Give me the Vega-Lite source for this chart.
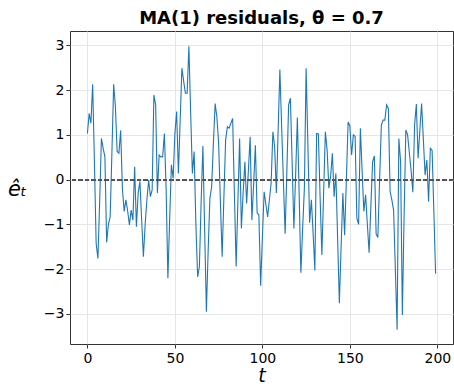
{
  "$schema": "https://vega.github.io/schema/vega-lite/v6.json",
  "width": 383,
  "height": 313,
  "autosize": {"type": "none"},
  "padding": {"left": 70, "top": 31, "right": 1, "bottom": 40},
  "background": "white",
  "config": {
    "view": {"stroke": "#333333", "strokeWidth": 1},
    "font": "DejaVu Sans",
    "axis": {"labelFont": "DejaVu Sans", "titleFont": "DejaVu Sans", "labelColor": "#000000", "titleColor": "#000000", "tickColor": "#333333", "gridColor": "#e6e6e6", "domain": false}
  },
  "title": {"text": "MA(1) residuals, θ = 0.7", "fontSize": 18, "font": "DejaVu Sans", "fontWeight": "bold", "color": "#000000", "offset": 3, "anchor": "middle"},
  "data": {"values": [
    {"t":0,"e":1.03},{"t":1,"e":1.48},{"t":2,"e":1.26},{"t":3,"e":2.13},{"t":4,"e":0.4},{"t":5,"e":-1.42},{"t":6,"e":-1.76},{"t":7,"e":-0.5},{"t":8,"e":0.92},{"t":9,"e":0.7},
    {"t":10,"e":0.51},{"t":11,"e":-1.4},{"t":12,"e":-1.0},{"t":13,"e":-0.83},{"t":14,"e":0.6},{"t":15,"e":2.13},{"t":16,"e":1.63},{"t":17,"e":0.63},{"t":18,"e":0.59},{"t":19,"e":1.1},
    {"t":20,"e":-0.2},{"t":21,"e":-0.71},{"t":22,"e":-0.45},{"t":23,"e":-0.7},{"t":24,"e":-1.01},{"t":25,"e":-0.68},{"t":26,"e":-0.9},{"t":27,"e":0.29},{"t":28,"e":-1.05},{"t":29,"e":-0.3},
    {"t":30,"e":-0.04},{"t":31,"e":-0.9},{"t":32,"e":-1.72},{"t":33,"e":-1.0},{"t":34,"e":-0.45},{"t":35,"e":-0.01},{"t":36,"e":-0.38},{"t":37,"e":-0.23},{"t":38,"e":1.89},{"t":39,"e":1.67},
    {"t":40,"e":-0.3},{"t":41,"e":0.55},{"t":42,"e":0.51},{"t":43,"e":0.51},{"t":44,"e":1.03},{"t":45,"e":-0.23},{"t":46,"e":-2.2},{"t":47,"e":-0.9},{"t":48,"e":0.33},{"t":49,"e":0.03},
    {"t":50,"e":1.03},{"t":51,"e":1.52},{"t":52,"e":0.14},{"t":53,"e":1.3},{"t":54,"e":2.49},{"t":55,"e":2.2},{"t":56,"e":1.93},{"t":57,"e":1.93},{"t":58,"e":2.98},{"t":59,"e":1.5},
    {"t":60,"e":0.14},{"t":61,"e":0.63},{"t":62,"e":-1.0},{"t":63,"e":-2.17},{"t":64,"e":-1.94},{"t":65,"e":-0.5},{"t":66,"e":0.75},{"t":67,"e":-1.1},{"t":68,"e":-2.95},{"t":69,"e":-1.6},
    {"t":70,"e":-0.42},{"t":71,"e":-0.16},{"t":72,"e":0.8},{"t":73,"e":1.7},{"t":74,"e":1.4},{"t":75,"e":0.81},{"t":76,"e":-0.5},{"t":77,"e":-1.72},{"t":78,"e":-0.4},{"t":79,"e":0.89},
    {"t":80,"e":1.18},{"t":81,"e":1.15},{"t":82,"e":1.26},{"t":83,"e":1.37},{"t":84,"e":-0.3},{"t":85,"e":-1.94},{"t":86,"e":-0.5},{"t":87,"e":0.92},{"t":88,"e":-1.09},{"t":89,"e":-0.3},
    {"t":90,"e":0.4},{"t":91,"e":-0.53},{"t":92,"e":0.2},{"t":93,"e":0.96},{"t":94,"e":-0.9},{"t":95,"e":-0.1},{"t":96,"e":0.77},{"t":97,"e":-0.74},{"t":98,"e":-0.79},{"t":99,"e":-2.37},
    {"t":100,"e":-1.3},{"t":101,"e":-0.27},{"t":102,"e":-0.55},{"t":103,"e":-0.83},{"t":104,"e":-0.45},{"t":105,"e":-0.08},{"t":106,"e":1.07},{"t":107,"e":0.74},{"t":108,"e":-0.3},{"t":109,"e":1.1},
    {"t":110,"e":2.46},{"t":111,"e":1.2},{"t":112,"e":0.0},{"t":113,"e":-1.21},{"t":114,"e":0.2},{"t":115,"e":1.67},{"t":116,"e":1.82},{"t":117,"e":0.4},{"t":118,"e":-1.09},{"t":119,"e":0.1},
    {"t":120,"e":1.39},{"t":121,"e":-0.3},{"t":122,"e":-2.08},{"t":123,"e":-1.1},{"t":124,"e":-0.2},{"t":125,"e":2.49},{"t":126,"e":0.8},{"t":127,"e":-0.96},{"t":128,"e":-0.45},{"t":129,"e":-1.2},
    {"t":130,"e":-2.03},{"t":131,"e":1.03},{"t":132,"e":1.02},{"t":133,"e":-0.4},{"t":134,"e":-1.68},{"t":135,"e":-0.3},{"t":136,"e":1.07},{"t":137,"e":0.66},{"t":138,"e":-0.19},{"t":139,"e":0.07},
    {"t":140,"e":0.59},{"t":141,"e":-0.38},{"t":142,"e":0.14},{"t":143,"e":-1.3},{"t":144,"e":-2.76},{"t":145,"e":-1.5},{"t":146,"e":-0.3},{"t":147,"e":-1.24},{"t":148,"e":0.0},{"t":149,"e":1.29},
    {"t":150,"e":1.2},{"t":151,"e":0.55},{"t":152,"e":1.0},{"t":153,"e":0.97},{"t":154,"e":-0.86},{"t":155,"e":-1.0},{"t":156,"e":1.15},{"t":157,"e":0.2},{"t":158,"e":-0.71},{"t":159,"e":-0.34},
    {"t":160,"e":-1.0},{"t":161,"e":-1.63},{"t":162,"e":-0.6},{"t":163,"e":0.4},{"t":164,"e":0.53},{"t":165,"e":-1.21},{"t":166,"e":-1.29},{"t":167,"e":0.0},{"t":168,"e":1.22},{"t":169,"e":1.33},
    {"t":170,"e":1.33},{"t":171,"e":1.67},{"t":172,"e":1.59},{"t":173,"e":-0.27},{"t":174,"e":-0.45},{"t":175,"e":-0.68},{"t":176,"e":-2.0},{"t":177,"e":-3.35},{"t":178,"e":0.92},{"t":179,"e":0.4},
    {"t":180,"e":-3.02},{"t":181,"e":-0.8},{"t":182,"e":1.11},{"t":183,"e":1.0},{"t":184,"e":0.6},{"t":185,"e":0.2},{"t":186,"e":-0.28},{"t":187,"e":1.22},{"t":188,"e":1.69},{"t":189,"e":0.48},
    {"t":190,"e":1.1},{"t":191,"e":1.7},{"t":192,"e":0.9},{"t":193,"e":0.1},{"t":194,"e":0.44},{"t":195,"e":-0.49},{"t":196,"e":0.7},{"t":197,"e":0.66},{"t":198,"e":-0.7},{"t":199,"e":-2.1}
  ]},
  "layer": [
    {
      "mark": {"type": "line", "color": "#1f77b4", "strokeWidth": 1.1},
      "encoding": {
        "x": {"field": "t", "type": "quantitative",
          "scale": {"domain": [-9.95, 208.95], "nice": false, "zero": false},
          "axis": {"values": [0, 50, 100, 150, 200], "title": "t", "titleFontStyle": "italic", "titleFontWeight": "normal", "titleFontSize": 19, "titlePadding": 1, "labelFontSize": 14, "labelPadding": 3, "tickSize": 4, "grid": true, "labelFlush": false}},
        "y": {"field": "e", "type": "quantitative",
          "scale": {"domain": [-3.67, 3.32], "nice": false, "zero": false},
          "axis": {"values": [-3, -2, -1, 0, 1, 2, 3], "title": "êₜ", "titleAngle": 0, "titleX": -53, "titleY": 158, "titleAlign": "center", "titleBaseline": "middle", "titleFontSize": 21, "titleFontWeight": "normal", "titleFontStyle": "italic", "labelFontSize": 14, "labelPadding": 2, "tickSize": 4, "grid": true}}
      }
    },
    {
      "mark": {"type": "rule", "color": "#555555", "strokeDash": [4, 2.5], "strokeWidth": 1},
      "encoding": {"y": {"datum": 0, "type": "quantitative"}}
    }
  ]
}
